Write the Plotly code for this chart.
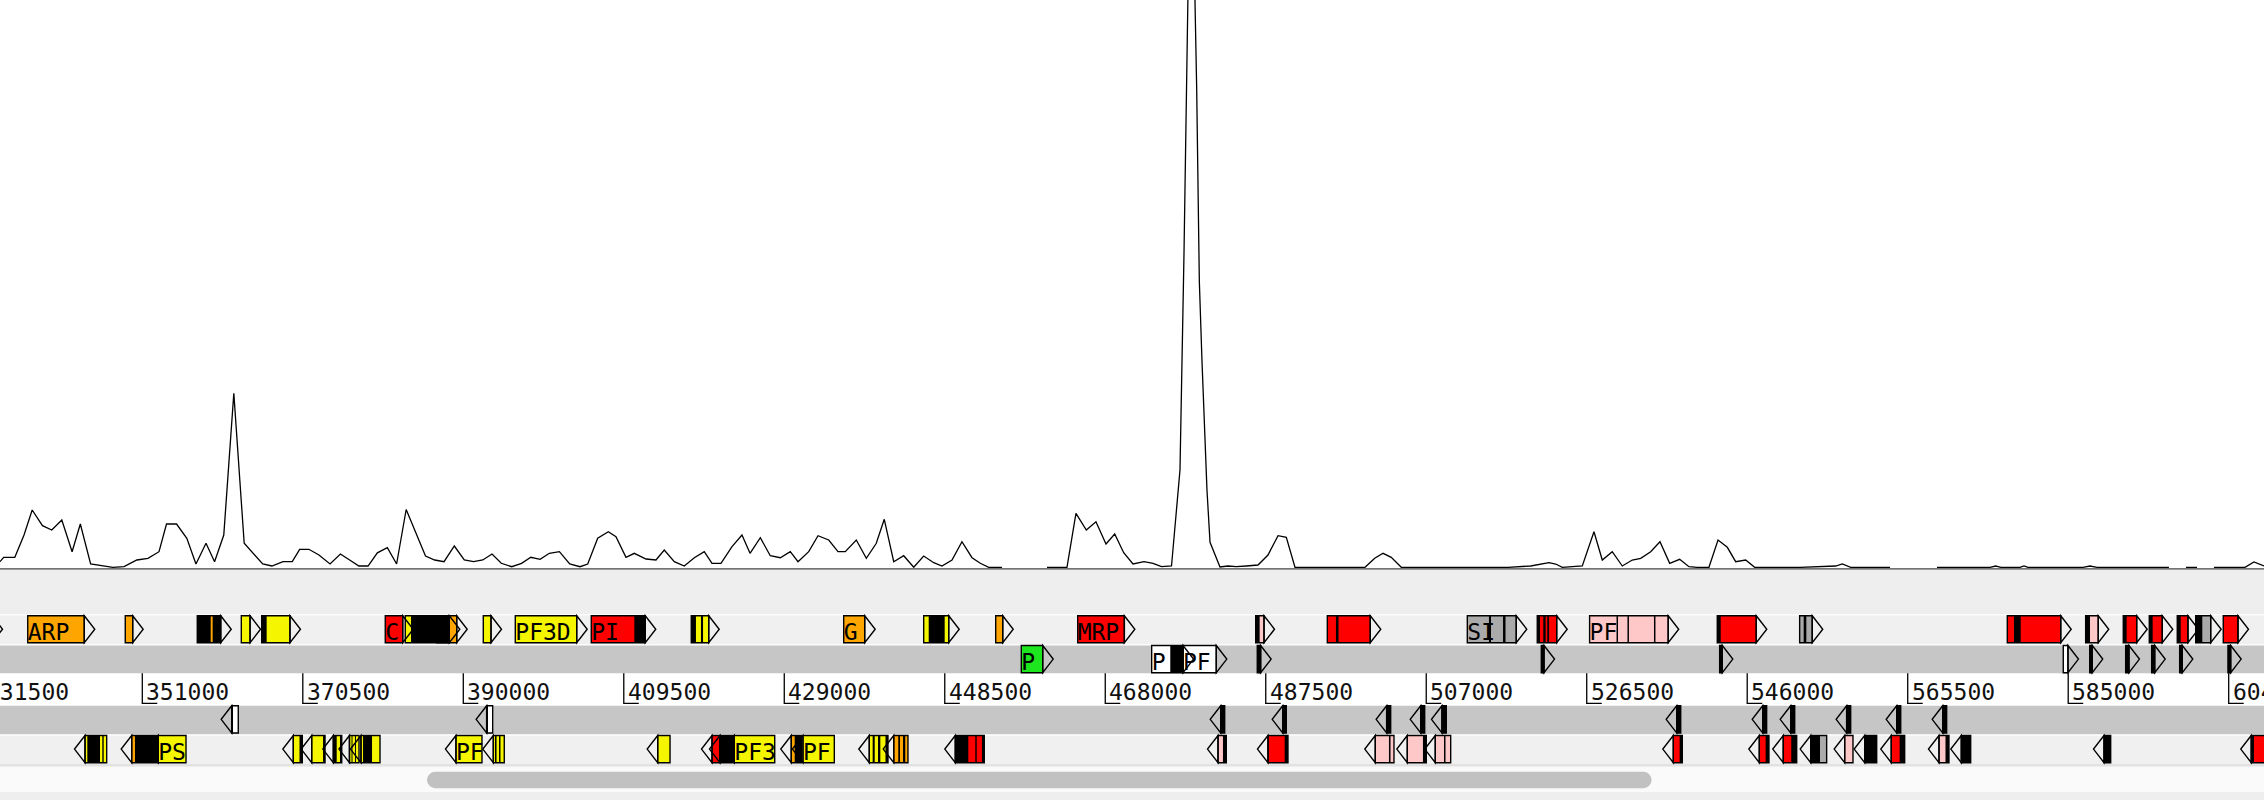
import plotly.graph_objects as go

# ---------------- data ----------------
X_MIN, X_MAX = 333710, 608789

# coverage line (bp position, value); None = gap in data
cov_pos = [
    333710, 334160, 335510, 336630, 337620, 338870, 340000, 341220, 342470, 343470,
    344720, 346070, 347420, 348780, 350340, 351690, 353030, 353940, 355160, 356410,
    357520, 358740, 359780, 360900, 362120, 363380, 364500, 365630, 366750, 368100,
    369220, 370120, 371240, 372460, 373810, 375070, 376190, 377320, 378430, 379560,
    380770, 381900, 383060, 384380, 385410, 386530, 387660, 388910, 390120, 391250,
    392370, 393490, 394620, 395880, 397080, 398210, 399330, 400460, 401680, 402930,
    404180, 405120, 406330, 407620, 408550, 409770, 410780, 412200, 413410, 414420,
    415640, 416850, 418070, 419280, 420220, 421310, 422650, 423860, 424840, 426090,
    427300, 428520, 429730, 430670, 431970, 433100, 434400, 435530, 436410, 437750,
    438970, 440180, 441150, 442300, 443510, 444730, 445940, 447160, 448160, 449380,
    450590, 451810, 452820, 453840, 455450, None, 460920, 463350, 464440, 465700,
    466870, 468090, 469150, 470240, 471370, 472710, 473800, 474830, 476050, 477080,
    477570, 477890, 478420, 479110, 479430, 479750, 480060, 480360, 480730, 481940,
    482910, 483920, 485140, 486560, 487770, 488990, 490000, 491050, 495310, 499560,
    500740, 501750, 502750, 503970, 509890, 516930, 519690, 520700, 521910, 522730,
    523530, 525960, 527380, 528390, 529600, 530820, 532030, 533060, 534270, 535400,
    536580, 537790, 538920, 539930, 541350, 542450, 543580, 544600, 545810, 546910,
    552410, 556750, 557550, 558570, 563350, None, 569060, 575500, 576190, 576830,
    579140, 579630, 580110, 586800, 587650, 588500, 597240, None, 599310, 600650,
    None, 602710, 606480, 607570, 608790,
]
cov_val = [
    0.56, 1.0, 1.0, 3.23, 5.73, 4.16, 3.73, 4.73, 1.56, 4.33,
    0.33, 0.16, 0.0, 0.06, 0.73, 0.9, 1.56, 4.33, 4.33, 2.9,
    0.33, 2.4, 0.56, 3.23, 17.4, 2.4, 1.4, 0.33, 0.13, 0.56,
    0.56, 1.8, 1.8, 1.23, 0.33, 1.33, 0.73, 0.13, 0.13, 1.45,
    1.96, 0.33, 5.78, 3.06, 1.13, 0.73, 0.56, 2.13, 0.73, 0.56,
    0.73, 1.33, 0.4, 0.06, 0.4, 1.0, 0.8, 1.4, 1.56, 0.33,
    0.06, 0.33, 2.9, 3.56, 3.06, 1.0, 1.4, 0.83, 0.73, 1.73,
    0.56, 0.13, 0.96, 1.56, 0.4, 0.4, 2.06, 3.23, 1.4, 2.96,
    1.16, 0.96, 1.56, 0.56, 1.56, 3.16, 2.73, 1.56, 1.56, 2.73,
    0.9, 2.4, 4.8, 0.56, 1.16, 0.0, 1.13, 0.46, 0.13, 0.73,
    2.56, 0.96, 0.4, 0.0, 0.0, None, 0.0, 0.0, 5.4, 3.73,
    4.56, 2.33, 3.33, 1.46, 0.33, 0.56, 0.4, 0.06, 0.13, 9.73,
    31.5, 44.5, 77.2, 47.8, 28.6, 20.7, 13.7, 7.7, 2.5, 0.03,
    0.13, 0.06, 0.13, 0.23, 1.23, 3.16, 3.0, 0.0, 0.0, 0.0,
    0.9, 1.4, 1.0, 0.0, 0.0, 0.0, 0.13, 0.3, 0.46, 0.33,
    0.0, 0.13, 3.56, 0.73, 1.56, 0.13, 0.73, 0.9, 1.56, 2.56,
    0.4, 0.8, 0.06, 0.0, 0.0, 2.73, 2.0, 0.56, 0.73, 0.0,
    0.0, 0.13, 0.33, 0.0, 0.0, None, 0.0, 0.0, 0.13, 0.0,
    0.0, 0.13, 0.0, 0.0, 0.13, 0.0, 0.0, None, 0.0, 0.0,
    None, 0.0, 0.0, 0.53, 0.13,
]
assert len(cov_pos) == len(cov_val)

tick_vals = [331500, 351000, 370500, 390000, 409500, 429000, 448500, 468000,
             487500, 507000, 526500, 546000, 565500, 585000, 604500]
tick_text = ["331500", "351000", "370500", "390000", "409500", "429000", "448500", "468000",
             "487500", "507000", "526500", "546000", "565500", "585000", "604500"]

# genes: track (F = forward, R = reverse; 1/2 = row), start, end, colour code, label
gene_track = ["F1"] * 31 + ["F2"] * 12 + ["R1"] * 13 + ["R2"] * 35
gene_start = [
    328850, 337080, 348930, 357680, 363030, 365510, 380520, 382950, 386770, 392430,
    396320, 405550, 417700, 436220, 445940, 454690, 464650, 486280, 494980, 511990,
    520490, 526850, 542360, 552370, 577600, 587120, 591690, 594850, 598250, 600490,
    603840,
    457800, 473640, 477450, 486470, 520980, 542650, 584400, 587610, 591980, 595140,
    598540, 604410,
    361860, 392840, 482030, 489560, 502190, 506330, 508910, 537430, 547880, 551280,
    558080, 564160, 569750,
    344040, 349710, 352940, 369350, 371580, 374210, 376170, 377570, 389110, 393650,
    413620, 420220, 421190, 422930, 429850, 431270, 439330, 442300, 449780, 481700,
    487770, 500810, 504700, 508100, 537020, 547470, 550380, 553710, 557840, 560270,
    563500, 569300, 572010, 589350, 607240,
]
gene_end = [
    332740, 343950, 349830, 360530, 364090, 368940, 382640, 388300, 389200, 393370,
    403780, 412110, 419820, 438770, 448980, 455540, 470320, 487290, 500200, 517940,
    522850, 536400, 547100, 553900, 584090, 588650, 593320, 596430, 599550, 602310,
    605630,
    460400, 477450, 481490, 486880, 521310, 542970, 584970, 587920, 592380, 595510,
    598860, 604740,
    362660, 393570, 482510, 490000, 502680, 506810, 509440, 537920, 548360, 551770,
    558570, 564650, 570230,
    346670, 352940, 356310, 370440, 373200, 375230, 377330, 379880, 392270, 394980,
    415120, 421190, 422930, 427840, 431070, 435080, 441600, 444030, 453300, 482710,
    490200, 503080, 507010, 509970, 538110, 548640, 552010, 555650, 558850, 561730,
    565130, 570510, 573150, 590160, 610120,
]
gene_color = [
    "Y", "O", "O", "O", "Y", "Y", "R", "Y", "O", "Y",
    "Y", "R", "Y", "O", "Y", "O", "R", "PK", "R", "GR",
    "R", "PK", "R", "GR", "R", "PK", "R", "R", "R", "GR",
    "R",
    "G", "W", "W", "K", "K", "K", "W", "K", "K", "K",
    "K", "K",
    "W", "W", "K", "K", "K", "K", "K", "K", "K", "K",
    "K", "K", "K",
    "Y", "O", "Y", "Y", "Y", "Y", "Y", "Y", "Y", "Y",
    "Y", "R", "K", "Y", "O", "Y", "Y", "O", "R", "PK",
    "R", "PK", "PK", "PK", "R", "R", "R", "GR", "PK", "K",
    "R", "PK", "K", "K", "R",
]
gene_label = [
    "", "ARP", "", "", "", "", "C", "", "", "",
    "PF3D", "PI", "", "G", "", "", "MRP", "", "", "SI",
    "", "PF", "", "", "", "", "", "", "", "",
    "",
    "P", "P", "PF", "", "", "", "", "", "", "",
    "", "",
    "", "", "", "", "", "", "", "", "", "",
    "", "", "",
    "", "", "PS", "", "", "", "", "", "PF", "",
    "", "", "", "PF3", "", "PF", "", "", "", "",
    "", "", "", "", "", "", "", "", "", "",
    "", "", "", "", "",
]

# black (exon / domain) blocks inside genes
blk_start = [
    357680, 359550, 365510, 383650, 386770, 410780, 417700, 418880, 446550, 486280,
    496030, 514620, 516330, 520490, 521220, 521710, 530120, 531450, 534670, 542360,
    552860, 578410, 587120, 591690, 594850, 598250, 600490,
    475900,
    361860, 392840,
    344320, 346140, 350110, 370100, 372960, 374210, 375020, 376420, 376840, 377820,
    393850, 394340, 430270, 439740, 440390, 441300, 442850, 443430, 449780, 452210,
    453020, 482300, 489800, 502470, 506600, 509160, 537790, 548240, 551350, 553710,
    564520, 570090, 607240,
]
blk_end = [
    359310, 360530, 366110, 388300, 388300, 412110, 418270, 419130, 448490, 486760,
    496340, 514870, 516630, 520820, 521510, 521920, 530300, 531630, 534850, 542780,
    553180, 579230, 587650, 592100, 595260, 598670, 601290,
    477450,
    362020, 393000,
    345860, 346310, 352940, 370440, 373200, 374620, 375230, 376540, 376960, 378910,
    394040, 394520, 431070, 439990, 440670, 441600, 443060, 443700, 451360, 452380,
    453300, 482710, 490200, 502660, 507010, 509340, 538110, 548640, 552010, 554840,
    565130, 570510, 607570,
]
blk_track = ["F1"] * 27 + ["F2"] * 1 + ["R1"] * 2 + ["R2"] * 33
assert len(blk_start) == len(blk_end) == len(blk_track)
assert len(gene_start) == len(gene_end) == len(gene_color) == len(gene_label) == len(gene_track)

# ---------------- styling / layout constants ----------------
W, H = 2264, 800
BPP = (X_MAX - X_MIN) / W          # bp per screen pixel
ARROW = 10.5 * BPP
TICK_FOOT = 15 * BPP
ROW_Y = {"F1": (615.7, 642.7), "F2": (645.5, 672.7), "R1": (705.7, 733.0), "R2": (735.5, 762.7)}
COLORS = {"Y": "#f5f500", "O": "#ffa500", "R": "#ff0000", "PK": "#ffc8c8",
          "GR": "#aaaaaa", "G": "#1ee61e", "W": "#ffffff", "K": "#000000"}
FONT = "DejaVu Sans Mono"
LW = 1.4


def py(p):
    return 1 - p / H


def xfrac(v):
    return (v - X_MIN) / (X_MAX - X_MIN)


shapes = []
bands = [(569.3, 614.3, "#eeeeee"), (615.5, 644.3, "#f0f0f0"), (645.5, 673.3, "#c6c6c6"),
         (705.7, 734.3, "#c6c6c6"), (735.7, 764.0, "#f0f0f0"), (764.0, 766.7, "#e2e2e2"),
         (766.7, 792.0, "#fafafa"), (792.0, 800.0, "#eeeeee")]
for a, b, c in bands:
    shapes.append(dict(type="rect", xref="paper", yref="paper", x0=0, x1=1, y0=py(b), y1=py(a),
                       fillcolor=c, line=dict(width=0), layer="below"))

# gene fills
for t, s, e, c in zip(gene_track, gene_start, gene_end, gene_color):
    y0, y1 = ROW_Y[t]
    shapes.append(dict(type="rect", xref="x", yref="y2", x0=s, x1=e, y0=y0, y1=y1,
                       fillcolor=COLORS[c], line=dict(width=0), layer="below"))
# black blocks
for t, s, e in zip(blk_track, blk_start, blk_end):
    y0, y1 = ROW_Y[t]
    shapes.append(dict(type="rect", xref="x", yref="y2", x0=s, x1=e, y0=y0, y1=y1,
                       fillcolor="#000000", line=dict(width=0), layer="below"))
# outlines
for t, s, e in zip(gene_track, gene_start, gene_end):
    y0, y1 = ROW_Y[t]
    shapes.append(dict(type="rect", xref="x", yref="y2", x0=s, x1=e, y0=y0, y1=y1,
                       fillcolor="rgba(0,0,0,0)", line=dict(color="black", width=LW), layer="below"))
# direction arrows
for t, s, e in zip(gene_track, gene_start, gene_end):
    y0, y1 = ROW_Y[t]
    ym = (y0 + y1) / 2
    if t.startswith("F"):
        path = f"M{e},{y0} L{e + ARROW},{ym} L{e},{y1} Z"
    else:
        path = f"M{s},{y0} L{s - ARROW},{ym} L{s},{y1} Z"
    shapes.append(dict(type="path", xref="x", yref="y2", path=path,
                       fillcolor="rgba(0,0,0,0)", line=dict(color="black", width=LW), layer="below"))
# axis ticks (L shaped)
for tv in tick_vals:
    shapes.append(dict(type="line", xref="x", yref="y2", x0=tv, x1=tv, y0=673.3, y1=704.0,
                       line=dict(color="black", width=1.3), layer="below"))
    shapes.append(dict(type="line", xref="x", yref="y2", x0=tv, x1=tv + TICK_FOOT, y0=703.3, y1=703.3,
                       line=dict(color="black", width=1.3), layer="below"))
# baseline of the plot
shapes.append(dict(type="line", xref="paper", yref="paper", x0=0, x1=1, y0=py(568.8), y1=py(568.8),
                   line=dict(color="#444444", width=1.3), layer="above"))
# scrollbar
sb_l, sb_r, sb_t, sb_b = 427.0, 1651.6, 771.7, 788.3
r = (sb_b - sb_t) / 2
shapes.append(dict(type="rect", xref="paper", yref="paper", x0=(sb_l + r) / W, x1=(sb_r - r) / W,
                   y0=py(sb_b), y1=py(sb_t), fillcolor="#c1c1c1", line=dict(width=0), layer="above"))
for cx in (sb_l + r, sb_r - r):
    shapes.append(dict(type="circle", xref="paper", yref="paper", x0=(cx - r) / W, x1=(cx + r) / W,
                       y0=py(sb_b), y1=py(sb_t), fillcolor="#c1c1c1", line=dict(width=0), layer="above"))

# tick labels as annotations (paper x, so the partly visible first one is kept)
annotations = []
for tv, tt in zip(tick_vals, tick_text):
    annotations.append(dict(x=xfrac(tv), xref="paper", y=692.0, yref="y2", text=tt,
                            showarrow=False, xanchor="left", yanchor="middle", xshift=2,
                            font=dict(family=FONT, size=23, color="#111111")))

fig = go.Figure()
fig.add_trace(go.Scatter(x=cov_pos, y=cov_val, mode="lines", connectgaps=False,
                         line=dict(color="black", width=1.3), hoverinfo="skip",
                         xaxis="x", yaxis="y"))
lab_x, lab_y, lab_t = [], [], []
for t, s, lab in zip(gene_track, gene_start, gene_label):
    if lab:
        lab_x.append(s)
        lab_y.append(ROW_Y[t][1] - 8.45)
        lab_t.append(lab)
fig.add_trace(go.Scatter(x=lab_x, y=lab_y, mode="text", text=lab_t, textposition="middle right",
                         cliponaxis=False, marker=dict(size=3),
                         textfont=dict(family=FONT, size=23, color="#000000"),
                         hoverinfo="skip", xaxis="x", yaxis="y2"))

fig.update_layout(
    width=W, height=H, margin=dict(l=0, r=0, t=0, b=0),
    paper_bgcolor="white", plot_bgcolor="rgba(0,0,0,0)", showlegend=False,
    xaxis=dict(range=[X_MIN, X_MAX], domain=[0, 1], visible=False, fixedrange=True),
    yaxis=dict(range=[-0.1, 56.73], domain=[py(568.3), 1], visible=False),
    yaxis2=dict(range=[800, 568.3], domain=[0, py(568.3)], visible=False, anchor="x"),
    shapes=shapes,
    annotations=annotations,
)
fig.write_html("out.html")
